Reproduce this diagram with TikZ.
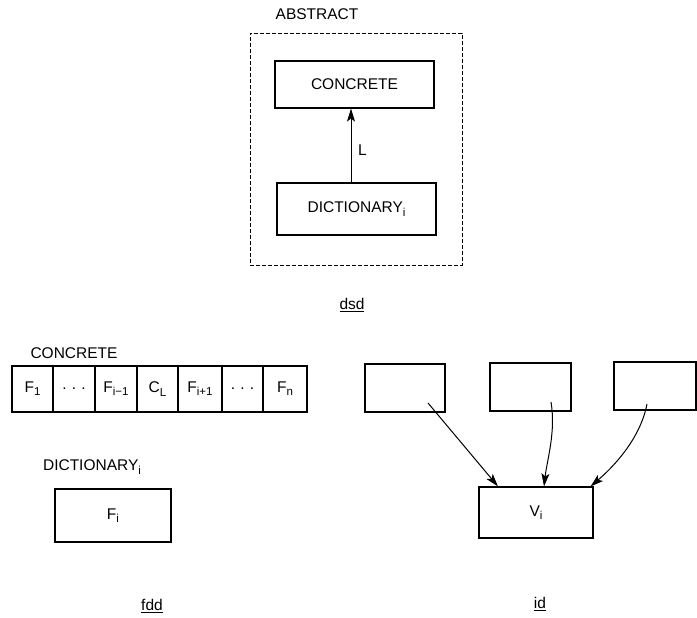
\documentclass[tikz,border=0pt]{standalone}
\usepackage{fontspec}
\setmainfont{Liberation Sans}
\usetikzlibrary{arrows.meta}
\newcommand\sbx[1]{\raisebox{-0.4ex}{\fontsize{11.5}{12}\selectfont #1}}
\tikzset{
  lab/.style={font=\fontsize{15.5}{18}\selectfont, inner sep=0pt},
  box/.style={draw, line width=1.1pt, inner sep=0pt, font=\fontsize{15.5}{18}\selectfont},
  cell/.style={box, minimum height=46pt},
  arr/.style={line width=1pt, -{Stealth[length=13pt,width=8pt,inset=3pt]}}
}
\begin{document}
\begin{tikzpicture}[x=1pt,y=-1pt]
\useasboundingbox (0,0) rectangle (697,618);
% --- dsd ---
\node[lab] (tabs) at (317,14) {ABSTRACT};
\node[box, dashed, dash pattern=on 4pt off 2pt, line width=0.9pt, minimum width=212pt, minimum height=232pt] (abs) at (356,149) {};
\node[box, minimum width=159pt, minimum height=47pt] (conc) at (354.5,84.5) {CONCRETE};
\node[box, minimum width=159pt, minimum height=52pt] (dict) at (356.5,209) {DICTIONARY\sbx{i}};
\draw[arr] ([xshift=-5.5]dict.north) -- ([xshift=-3.5]conc.south);
\node[lab, anchor=west] (L) at (358,150) {L};
\node[lab] (dsd) at (352,305) {\underline{dsd}};
% --- fdd ---
\node[lab] (tconc) at (74,353) {CONCRETE};
\node[cell, minimum width=41pt] (c1) at (32.5,389) {F\sbx{1}};
\node[cell, minimum width=42pt] (c2) at (74,389) {.\,\,.\,\,.};
\node[cell, minimum width=42pt] (c3) at (116,389) {F\sbx{i−1}};
\node[cell, minimum width=41pt] (c4) at (157.5,389) {C\sbx{L}};
\node[cell, minimum width=44pt] (c5) at (200,389) {F\sbx{i+1}};
\node[cell, minimum width=41pt] (c6) at (242.5,389) {.\,\,.\,\,.};
\node[cell, minimum width=44pt] (c7) at (285,389) {F\sbx{n}};
\node[lab] (tdict) at (92,467) {DICTIONARY\sbx{i}};
\node[box, minimum width=116pt, minimum height=53pt] (fi) at (113,515.5) {F\sbx{i}};
\node[lab] (fdd) at (152,606) {\underline{fdd}};
% --- id ---
\node[box, minimum width=80pt, minimum height=48pt] (b1) at (405,388) {};
\node[box, minimum width=81pt, minimum height=48pt] (b2) at (530.5,387) {};
\node[box, minimum width=82pt, minimum height=48pt] (b3) at (655,386) {};
\node[box, minimum width=114pt, minimum height=51pt] (vi) at (536,512.5) {V\sbx{i}};
\draw[arr] ([shift={(23,15)}]b1.center) -- ([xshift=-38]vi.north);
\draw[arr] ([shift={(20.5,15)}]b2.center) .. controls (556,432) and (547,460) .. ([xshift=8]vi.north);
\draw[arr] ([shift={(-8,18)}]b3.center) .. controls (640,440) and (612,468) .. ([xshift=-3]vi.north east);
\node[lab] (id) at (540,604) {\underline{id}};
\end{tikzpicture}
\end{document}
